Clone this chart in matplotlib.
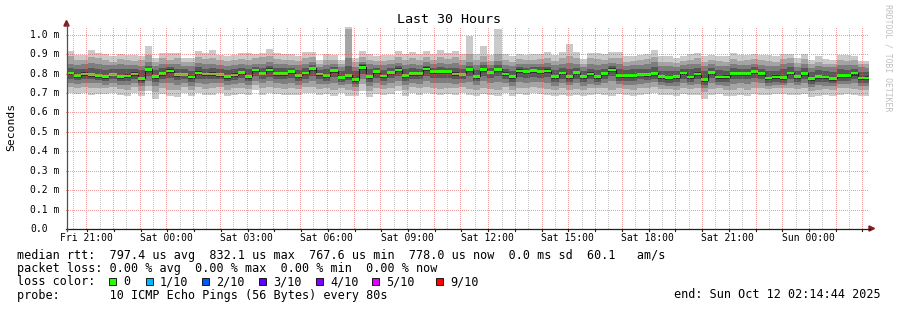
import matplotlib
matplotlib.use('Agg')
import matplotlib.pyplot as plt
import numpy as np
from matplotlib.patches import Rectangle, Polygon
from matplotlib.transforms import blended_transform_factory

# ---------------- data (microseconds), one value per 16-minute bar ----------------
bar_minutes = 16
first_bar_offset_min = 1.5   # first bar starts this many minutes after window start
window_hours = 30

ping10 = [918,894,894,923,906,901,889,901,898,898,889,944,881,906,906,906,881,881,918,906,
          923,894,889,894,906,906,901,906,929,906,901,901,889,911,911,872,901,894,872,1060,
          881,918,901,889,894,898,915,901,911,901,918,901,923,906,918,901,992,901,941,894,
          1031,901,889,901,894,901,901,911,894,911,953,911,877,906,906,901,911,911,889,889,
          894,901,923,889,889,881,889,901,906,889,898,889,889,906,894,894,901,894,894,889,
          901,901,881,901,872,889,877,872,894,894,889,867,867]
ping9 = [889,868,872,885,878,870,862,875,870,866,868,895,858,878,872,880,860,862,885,874,
         880,870,864,868,876,872,880,884,892,875,872,870,866,880,885,852,870,872,850,1031,
         858,888,872,866,864,870,885,872,880,870,888,872,885,876,884,868,900,870,892,866,
         900,870,862,876,868,872,876,880,866,882,890,878,852,878,874,870,882,880,862,866,
         868,876,885,860,862,856,866,872,878,862,872,864,862,876,866,868,876,868,864,862,
         874,880,855,876,848,862,852,850,870,866,868,850,848]
ping8 = [850,846,848,855,852,844,842,850,846,844,840,862,838,852,850,848,840,838,856,848,
         852,846,840,844,850,845,852,850,860,848,850,846,842,852,858,835,846,850,832,880,
         836,860,848,846,842,848,856,845,852,846,858,850,856,850,854,846,862,844,860,846,
         865,846,838,852,848,850,852,855,842,852,856,852,834,850,846,848,856,852,840,842,
         846,850,858,840,838,836,844,848,852,840,848,840,838,850,844,846,852,846,840,838,
         848,854,836,850,830,840,834,832,846,844,846,832,830]
ping7 = [828,822,826,830,826,820,824,826,822,826,818,840,818,828,832,826,822,816,832,826,
         830,824,818,822,830,822,836,830,840,828,828,830,820,830,842,818,822,834,812,840,
         812,848,824,830,820,828,838,822,830,826,840,830,834,830,828,824,840,820,842,828,
         842,826,816,834,830,834,832,836,818,830,826,830,814,826,820,826,838,826,820,822,
         824,826,834,816,814,814,826,822,830,814,828,818,816,830,826,826,832,826,814,816,
         822,832,816,828,808,818,814,810,822,820,826,810,808]
ping6 = [810,797,806,801,798,794,803,792,796,806,784,830,793,808,822,802,804,790,812,805,
         807,802,793,801,813,794,826,810,828,808,807,817,798,811,835,805,797,823,789,800,
         776,842,793,818,795,813,828,799,810,807,832,817,818,816,806,804,831,793,830,815,
         830,806,792,822,819,823,820,822,792,811,793,812,792,806,792,808,827,798,799,798,
         805,802,810,792,789,792,811,790,806,775,813,790,791,810,809,808,818,807,785,791,
         788,811,793,810,780,794,790,783,798,797,811,785,786]
median = [803,790,798,795,791,786,795,786,788,798,776,822,786,800,814,795,795,783,803,798,
          798,795,786,793,805,786,819,802,819,800,800,809,791,803,827,798,790,815,781,791,
          769,833,786,810,788,805,819,791,802,800,824,809,809,809,798,797,822,786,822,807,
          822,798,785,814,812,815,812,814,785,803,785,805,785,798,785,800,819,791,791,791,
          797,795,802,785,781,785,803,783,798,768,805,783,783,802,802,800,810,800,778,783,
          781,803,786,802,773,786,783,776,790,790,803,778,778]
ping5 = [792,780,788,784,780,774,786,774,776,788,762,810,772,790,802,784,786,770,792,788,
         786,784,774,782,794,774,808,792,806,790,788,798,780,792,814,788,778,802,770,780,
         758,820,772,800,776,794,808,778,790,788,812,796,798,796,786,786,810,774,810,796,
         810,786,772,802,800,802,800,802,772,792,772,792,772,786,772,788,806,778,778,780,
         786,782,790,772,768,772,792,770,786,756,792,770,772,790,790,788,798,788,766,770,
         768,792,774,790,760,774,770,764,778,778,790,766,766]
ping4 = [772,768,774,770,768,762,772,760,762,774,750,786,758,772,778,768,770,756,774,770,
         770,770,760,766,776,760,786,774,784,772,770,778,764,774,790,770,764,782,756,766,
         746,796,758,780,762,776,788,762,772,770,790,776,778,778,770,770,788,760,790,778,
         788,770,758,782,780,782,780,782,758,774,758,774,758,770,758,772,786,764,764,764,
         770,768,774,758,754,756,774,756,770,742,776,756,756,772,774,772,780,772,752,756,
         754,774,758,772,746,758,756,750,764,764,772,752,752]
ping3 = [752,748,754,750,750,744,752,742,740,754,734,764,736,752,750,744,752,738,754,746,
         750,752,740,746,754,742,764,750,760,752,746,752,744,754,762,746,748,754,744,746,
         730,772,738,752,742,754,764,740,752,748,760,752,750,754,748,752,756,740,760,752,
         756,752,738,756,752,758,756,754,738,750,740,750,738,748,740,750,760,748,744,742,
         748,750,756,742,738,736,752,740,748,724,750,740,738,748,750,746,756,750,736,742,
         742,752,740,752,730,740,738,734,746,746,750,736,734]
ping2 = [730,725,730,724,728,724,730,720,716,732,712,738,706,728,718,714,730,716,730,720,
         724,730,716,724,728,720,742,724,732,728,720,724,720,730,732,720,726,716,728,716,
         712,748,712,726,720,728,738,716,730,724,732,726,722,728,724,730,722,716,728,722,
         718,730,716,728,724,730,728,722,716,724,716,722,716,724,726,724,718,728,720,716,
         724,728,732,722,720,716,728,720,724,704,722,728,716,716,724,716,728,724,720,726,
         728,724,720,728,712,716,720,716,724,726,720,716,716]
ping1 = [700,695,700,692,697,695,700,689,683,700,683,709,671,697,683,678,700,683,700,689,
         692,700,683,692,697,689,718,692,700,697,689,692,689,700,700,689,695,683,700,683,
         683,712,678,695,689,697,709,683,700,692,700,695,689,697,692,700,689,683,695,689,
         683,700,683,695,692,700,697,689,683,692,683,689,683,692,695,692,683,697,689,683,
         692,697,700,692,689,683,697,689,692,671,689,697,683,683,692,683,697,692,689,695,
         697,692,689,697,678,683,689,683,692,695,689,683,683]

y_ticks = [0.0, 0.1, 0.2, 0.3, 0.4, 0.5, 0.6, 0.7, 0.8, 0.9, 1.0]
y_tick_labels = ["0.0", "0.1 m", "0.2 m", "0.3 m", "0.4 m", "0.5 m", "0.6 m",
                 "0.7 m", "0.8 m", "0.9 m", "1.0 m"]
first_full_hour = 45.27 / 60.0          # Fri 21:00 relative to window start (20:14:44)
x_tick_labels = ["Fri 21:00", "Sat 00:00", "Sat 03:00", "Sat 06:00", "Sat 09:00",
                 "Sat 12:00", "Sat 15:00", "Sat 18:00", "Sat 21:00", "Sun 00:00"]

loss_labels = ["0", "1/10", "2/10", "3/10", "4/10", "5/10", "9/10"]
loss_colors = ["#26ff00", "#00b8ff", "#0059ff", "#5e00ff", "#7e00ff", "#dd00ff", "#ff0000"]

# ---------------- figure ----------------
W, H, DPI = 897, 310, 100
fig = plt.figure(figsize=(W / DPI, H / DPI), dpi=DPI)
fig.patch.set_facecolor('white')
MONO = 'DejaVu Sans Mono'

L, R, T, B = 66, 868, 27, 229          # plot area in pixels (pixel aligned)
PW, PH = R - L, B - T
px_per_ms = 194.2
px_per_h = PW / window_hours
ymax = PH / px_per_ms
ax = fig.add_axes([L / W, 1 - B / H, PW / W, PH / H])
ax.set_xlim(0, window_hours)
ax.set_ylim(0, ymax)
ax.set_facecolor('white')
for s in ax.spines.values():
    s.set_visible(False)
ax.set_xticks([])
ax.set_yticks([])

n = len(median)
edges = (first_bar_offset_min + bar_minutes * np.arange(n + 1)) / 60.0

def ext(a):
    a = np.asarray(a, dtype=float) / 1000.0
    return np.append(a, a[-1])

pings = [ping1, ping2, ping3, ping4, ping5, ping6, ping7, ping8, ping9, ping10]
half = 5
for i in range(1, half + 1):
    c = int(190 / half * (half - i)) + 50
    col = '#%02x%02x%02x' % (c, c, c)
    ax.fill_between(edges, ext(pings[i - 1]), ext(pings[10 - i]), step='post',
                    color=col, linewidth=0, zorder=2)

med = ext(median)
ax.step(edges, med, where='post', color='#202020', linewidth=0.8, zorder=3)
sw = 0.0072
ax.fill_between(edges, med - sw, med + sw, step='post', color=loss_colors[0],
                linewidth=0, zorder=4)

# dotted grid overlay (drawn above the graph, like rrdtool): one pixel on, one off
minor_rgba = (0.56, 0.56, 0.56, 0.5)
major_rgba = (0.87, 0.31, 0.31, 0.55)
hours = first_full_hour + np.arange(0, 30)
halves = first_full_hour - 0.5 + np.arange(0, 31)
grid = np.zeros((PH, PW, 4))
rows_on = np.arange(PH) % 2 == 1
cols_on = np.arange(PW) % 2 == 0
for h in halves:
    c = int(round(h * px_per_h))
    if 0 < c < PW:
        grid[rows_on, c] = minor_rgba
for h in hours:
    c = int(round(h * px_per_h))
    if 0 < c < PW:
        grid[rows_on, c] = major_rgba
for v in y_ticks[1:]:
    r = PH - int(round(v * px_per_ms))
    if 0 <= r < PH:
        grid[r, cols_on] = major_rgba
ax.imshow(grid, extent=[0, window_hours, 0, ymax], aspect='auto',
          interpolation='nearest', zorder=5)
ax.set_xlim(0, window_hours)
ax.set_ylim(0, ymax)

def fx(px):
    return px / W

def fy(py):
    return 1 - py / H

# axes lines and arrows
axis_col = '#1f1f1f'
arrow_col = '#7f1f1f'
fig.add_artist(plt.Line2D([fx(L), fx(R + 2)], [fy(B - 0.5), fy(B - 0.5)], color=axis_col,
                          linewidth=0.9))
fig.add_artist(plt.Line2D([fx(L + 0.5), fx(L + 0.5)], [fy(B + 2), fy(T - 3)], color='#505050',
                          linewidth=0.9))
fig.add_artist(Polygon([[fx(L - 2.1), fy(26)], [fx(L + 3.1), fy(26)], [fx(L + 0.5), fy(20.5)]],
                       closed=True, color=arrow_col, transform=fig.transFigure))
fig.add_artist(Polygon([[fx(869), fy(B - 3.1)], [fx(869), fy(B + 2.1)], [fx(874.5), fy(B - 0.5)]],
                       closed=True, color=arrow_col, transform=fig.transFigure))

# x ticks
for k in range(30):
    h = hours[k]
    xp = L + round(h * px_per_h) + 0.5
    fig.add_artist(plt.Line2D([fx(xp), fx(xp)], [fy(B), fy(B + 2)], color=axis_col,
                              linewidth=0.8))

# tick labels
tick_fs = 7.05
ty = blended_transform_factory(fig.transFigure, ax.transData)
for v, lab in zip(y_ticks, y_tick_labels):
    fig.text(fx(30), v, lab, transform=ty, ha='left', va='center', fontsize=tick_fs,
             family=MONO, color='black')
tx = blended_transform_factory(ax.transData, fig.transFigure)
for k, lab in enumerate(x_tick_labels):
    fig.text(first_full_hour + 3 * k, fy(238), lab, transform=tx, ha='center', va='center',
             fontsize=tick_fs, family=MONO, color='black')

# title, axis label, watermark
fig.text(0.5, fy(19.5), "Last 30 Hours", ha='center', va='center', fontsize=9.6,
         family=MONO, color='black')
fig.text(fx(11), fy(127), "Seconds", rotation=90, ha='center', va='center', fontsize=8.2,
         family=MONO, color='black')
fig.text(fx(887.5), fy(4), "RRDTOOL / TOBI OETIKER", rotation=-90, ha='center', va='top',
         fontsize=5.9, family=MONO, color='#c0c0c0')

# legend
leg_fs = 8.45
x0 = 16.7
fig.text(fx(x0), fy(255), "median rtt:  797.4 us avg  832.1 us max  767.6 us min  778.0 us now  0.0 ms sd  60.1   am/s",
         ha='left', va='center', fontsize=leg_fs, family=MONO)
fig.text(fx(x0), fy(268.3), "packet loss: 0.00 % avg  0.00 % max  0.00 % min  0.00 % now",
         ha='left', va='center', fontsize=leg_fs, family=MONO)
fig.text(fx(x0), fy(281.7), "loss color:", ha='left', va='center', fontsize=leg_fs, family=MONO)
box_x = [109, 146, 202, 259, 316, 372, 436]
for bx, lab, col in zip(box_x, loss_labels, loss_colors):
    fig.add_artist(Rectangle((fx(bx), fy(285)), 7 / W, 7 / H, transform=fig.transFigure,
                             facecolor=col, edgecolor='black', linewidth=0.6))
    fig.text(fx(bx + 14), fy(281.7), lab, ha='left', va='center', fontsize=leg_fs, family=MONO)
fig.text(fx(x0), fy(295), "probe:       10 ICMP Echo Pings (56 Bytes) every 80s",
         ha='left', va='center', fontsize=leg_fs, family=MONO)
fig.text(fx(881), fy(295), "end: Sun Oct 12 02:14:44 2025", ha='right', va='center',
         fontsize=leg_fs, family=MONO)

fig.savefig('out.png', dpi=DPI, facecolor='white')
